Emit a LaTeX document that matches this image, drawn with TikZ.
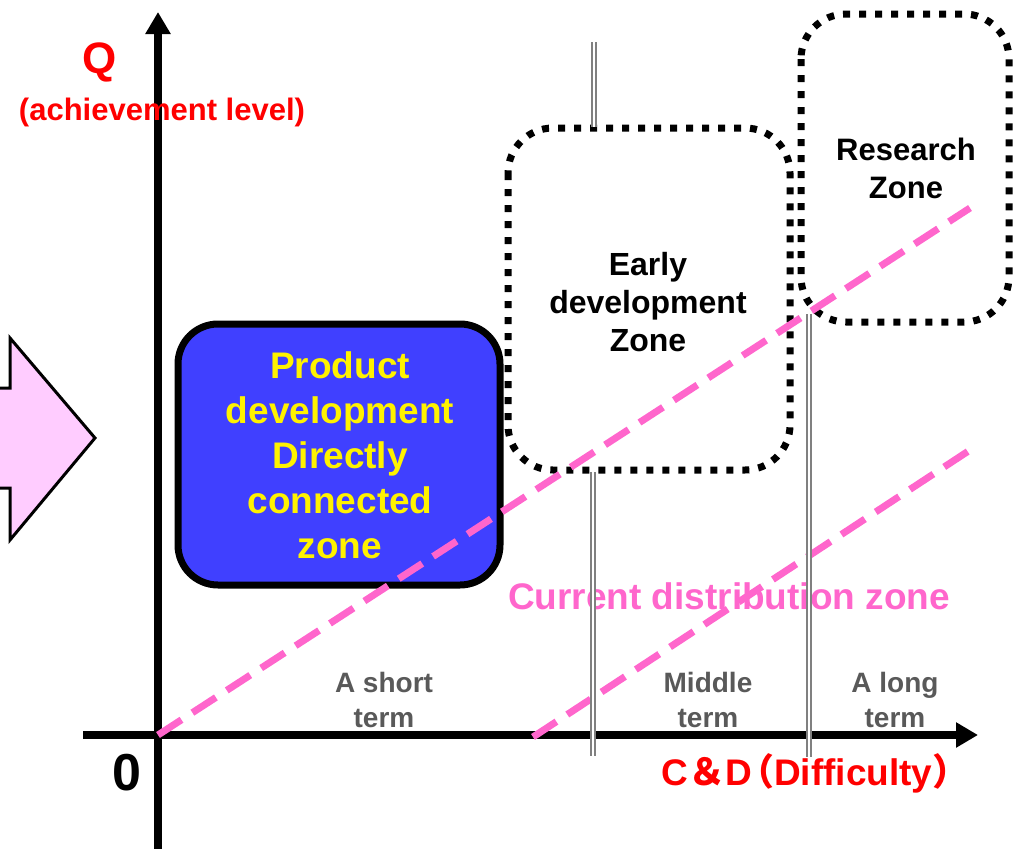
\documentclass[tikz,border=0pt]{standalone}
\usepackage{fontspec}
\setmainfont{Liberation Sans}
\newfontfamily\cjk{Noto Sans CJK JP}
\usetikzlibrary{arrows.meta}

\definecolor{zonepink}{RGB}{255,102,204}
\definecolor{arrowpink}{RGB}{255,204,255}
\definecolor{zoneblue}{RGB}{64,64,255}
\definecolor{termgray}{RGB}{89,89,89}
\definecolor{dividergray}{RGB}{128,128,128}

\begin{document}
\begin{tikzpicture}[x=1pt,y=-1pt,
    axis/.style={line width=8pt,-{Triangle[length=22pt,width=24pt]}},
    dotbox/.style={line width=7pt,dash pattern=on 7pt off 9pt,rounded corners=45pt},
    pinkline/.style={zonepink,line width=7pt,dash pattern=on 28pt off 13pt},
    divider/.style={dividergray,line width=1.8pt,double=white,double distance=2.4pt},
    termtext/.style={termgray,font=\fontsize{28}{35}\selectfont\bfseries,align=center},
    zonetext/.style={font=\fontsize{32}{38}\selectfont\bfseries,align=center}]
  \useasboundingbox (0,0) rectangle (1013,849);

  %% pink arrow coming in from the left
  \draw[line width=3pt,fill=arrowpink,line join=miter]
    (-6,388) -- (10,388) -- (10,338) -- (95,438) -- (10,540) -- (10,488) -- (-6,488) -- cycle;

  %% zones
  \draw[dotbox] (508,128) rectangle (790,470);
  \draw[dotbox] (801,14) rectangle (1009,322);
  \draw[line width=7pt,fill=zoneblue,rounded corners=40pt] (178,324) rectangle (500,585);

  %% axes
  \coordinate (O) at (158,735);
  \coordinate (ybot) at (158,849);
  \coordinate (ytop) at (158,12);
  \coordinate (xleft) at (83,735);
  \coordinate (xright) at (978,735);
  \draw[axis] (ybot) -- (ytop);
  \draw[axis] (xleft) -- (xright);

  %% distribution band
  \coordinate (upperend) at (970,208);
  \coordinate (lowerstart) at (533,737);
  \coordinate (lowerend) at (970,450);
  \draw[pinkline] (O) -- (upperend);
  \draw[pinkline] (lowerstart) -- (lowerend);

  %% labels
  \node (q) at (100,62) {\fontsize{44}{50}\selectfont\bfseries\textcolor{red}{Q}};
  \node (qtext) at (162,112) {\fontsize{31}{36}\selectfont\bfseries\textcolor{red}{(achievement level)}};
  \node (zero) at (127,773) {\fontsize{52}{60}\selectfont\bfseries 0};
  \node (xtext) at (808,773) {\fontsize{37}{44}\selectfont\bfseries\textcolor{red}{C{\cjk ＆}D\kern-.4em{\cjk （}Difficulty{\cjk ）}\kern-.4em}};

  \node[zonetext,text=yellow,font=\fontsize{37}{45}\selectfont\bfseries] (product) at (340,455)
    {Product\\development\\Directly\\connected\\zone};
  \node[zonetext] (early) at (648,302) {Early\\development\\Zone};
  \node[zonetext,font=\fontsize{31}{38}\selectfont\bfseries] (research) at (906,168) {Research\\Zone};
  \node[text=zonepink,font=\fontsize{37}{44}\selectfont\bfseries] (current) at (729,596) {Current distribution zone};

  \node[termtext] (short) at (384,700) {A short\\term};
  \node[termtext] (middle) at (708,700) {Middle\\term};
  \node[termtext] (long) at (895,700) {A long\\term};

  %% term dividers
  \coordinate (d1top) at (594,42);
  \coordinate (d1mid) at (594,127);
  \coordinate (d1low) at (593,472);
  \coordinate (d1bot) at (593,756);
  \coordinate (d2top) at (809,314);
  \coordinate (d2bot) at (809,757);
  \draw[divider] (d1top) -- (d1mid);
  \draw[divider] (d1low) -- (d1bot);
  \draw[divider] (d2top) -- (d2bot);
\end{tikzpicture}
\end{document}
